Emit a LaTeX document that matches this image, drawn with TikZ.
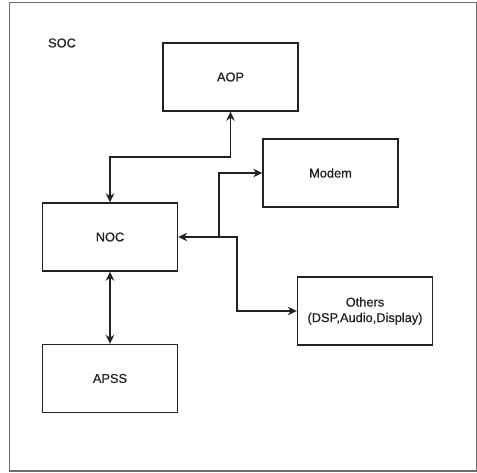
\documentclass[tikz,border=0pt]{standalone}
\usepackage{fontspec}
\setmainfont{Liberation Sans}
% a slightly heavier face for the block labels
\newfontfamily\labelfont{Liberation Sans}[BoldFont={Liberation Sans},BoldFeatures={FakeBold=0.7}]
\usetikzlibrary{arrows.meta}
\definecolor{ink}{HTML}{222222}
\definecolor{frame}{HTML}{6E6E6E}
\begin{document}
\begin{tikzpicture}[x=1pt,y=-1pt,
  lbl/.style={font=\labelfont\bfseries\fontsize{12.8}{15.5}\selectfont,text=ink},
  block/.style={lbl,draw=ink,line width=1.4pt,minimum width=135pt,minimum height=68pt,
    inner sep=0pt,align=center},
  link/.style={draw=ink,line width=1.6pt,arrows={Stealth[length=9pt,width=8.5pt]-Stealth[length=9pt,width=8.5pt]}},
  lead/.style={draw=ink,line width=1.6pt,arrows={-Stealth[length=9pt,width=8.5pt]}}]
  \useasboundingbox (0,0) rectangle (477,473);
  % outer SOC frame
  \draw[frame,line width=1.5pt] (9.5,2.5) rectangle (476.5,471);
  \node[lbl] (soc) at (62,43) {SOC};

  % blocks
  \node[block] (aop)    at (230.5,77)  {AOP};
  \node[block] (modem)  at (330.5,173) {Modem};
  \node[block] (noc)    at (110,237)   {NOC};
  \node[block,text width=130pt] (others) at (365,311) {Others\\(DSP,Audio,Display)};
  \node[block] (apss)   at (110,378.5) {APSS};

  % junction points of the bus lines
  \coordinate (ja) at (110,157);
  \coordinate (jb) at (230.5,157);
  \coordinate (jm) at (219,237);
  \coordinate (jo) at (237,237);

  % connectors
  \draw[link] (noc.north) -- (ja) -- (jb) -- (aop.south);
  \draw[link] (noc.south) -- (apss.north);
  \draw[link] (noc.east) -- (jo) |- (others.west);
  \draw[lead] (jm) |- (modem.west);
\end{tikzpicture}
\end{document}
